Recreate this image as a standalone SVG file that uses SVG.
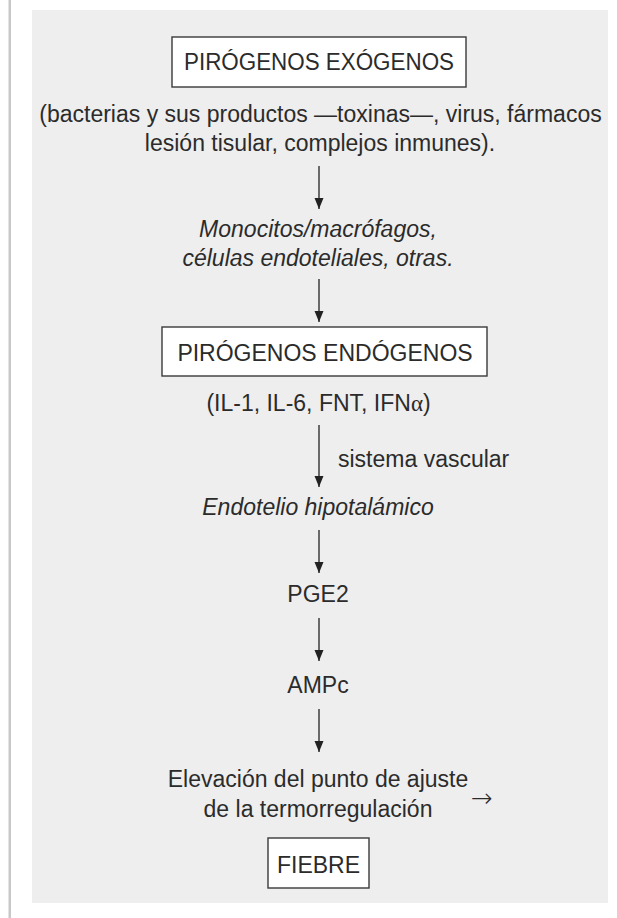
<svg xmlns="http://www.w3.org/2000/svg" width="617" height="918" viewBox="0 0 617 918">
<style>
.t{font-family:"Liberation Sans",Arial,sans-serif;font-size:23px;fill:#2b2b2b;text-anchor:middle}
.i{font-style:italic}
.box{fill:#fff;stroke:#3a3a3a;stroke-width:1.4}
.ar{stroke:#222;stroke-width:1.3;fill:none;marker-end:url(#ah)}
</style>
<defs>
<marker id="ah" markerUnits="userSpaceOnUse" markerWidth="12" markerHeight="10" viewBox="0 0 12 10" refX="11" refY="5" orient="auto">
<path d="M0,0.5 L11,5 L0,9.5 Z" fill="#222"/>
</marker>
</defs>
<rect x="0" y="0" width="617" height="918" fill="#fff"/>
<rect x="8.5" y="0" width="2.5" height="918" fill="#c8c8c8"/>
<rect x="32" y="10" width="576" height="893" fill="#eeeeee"/>

<g id="connectors">
<line class="ar" x1="319" y1="166" x2="319" y2="209"/>
<line class="ar" x1="319" y1="279" x2="319" y2="322"/>
<line class="ar" x1="319" y1="425" x2="319" y2="487"/>
<line class="ar" x1="319" y1="530" x2="319" y2="573"/>
<line class="ar" x1="319" y1="618" x2="319" y2="661"/>
<line class="ar" x1="319" y1="709" x2="319" y2="752"/>
<text class="t" x="338" y="467" style="text-anchor:start">sistema vascular</text>
</g>

<g id="exogenos">
<rect class="box" x="172" y="37" width="294" height="50"/>
<text class="t" x="319" y="70" textLength="270" lengthAdjust="spacingAndGlyphs">PIRÓGENOS EXÓGENOS</text>
</g>
<g id="exogenos-desc">
<text class="t" x="320.5" y="122">(bacterias y sus productos —toxinas—, virus, fármacos</text>
<text class="t" x="320" y="151">lesión tisular, complejos inmunes).</text>
</g>
<g id="monocitos">
<text class="t i" x="318" y="237">Monocitos/macrófagos,</text>
<text class="t i" x="318" y="266">células endoteliales, otras.</text>
</g>
<g id="endogenos">
<rect class="box" x="162" y="327" width="325" height="49"/>
<text class="t" x="325" y="361">PIRÓGENOS ENDÓGENOS</text>
</g>
<g id="endogenos-desc">
<text class="t" x="318.5" y="411">(IL-1, IL-6, FNT, IFN<tspan font-family="Liberation Serif,serif">α</tspan>)</text>
</g>
<g id="endotelio">
<text class="t i" x="318" y="515">Endotelio hipotalámico</text>
</g>
<g id="pge2">
<text class="t" x="318" y="602">PGE2</text>
</g>
<g id="ampc">
<text class="t" x="318" y="693">AMPc</text>
</g>
<g id="elevacion">
<text class="t" x="318" y="787">Elevación del punto de ajuste</text>
<text class="t" x="318" y="817">de la termorregulación</text>
<text class="t" x="471" y="807" style="text-anchor:start;font-family:'DejaVu Sans',sans-serif;font-size:26px;font-weight:200">→</text>
</g>
<g id="fiebre">
<rect class="box" x="268" y="838" width="101" height="50"/>
<text class="t" x="318.5" y="873">FIEBRE</text>
</g>
</svg>
